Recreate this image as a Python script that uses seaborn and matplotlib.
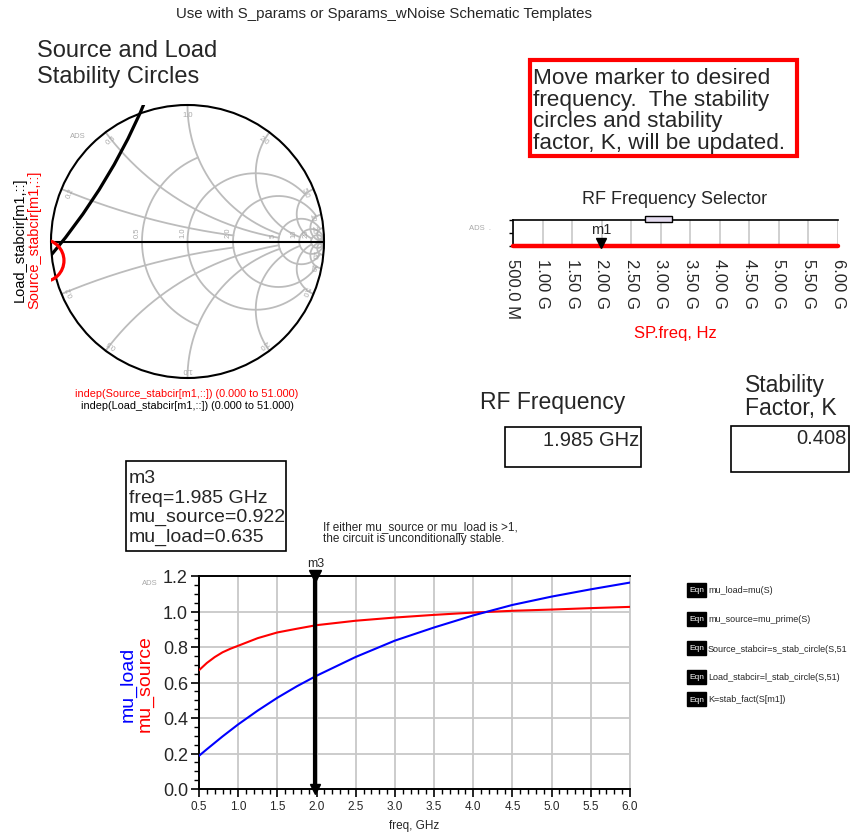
import numpy as np
import pandas as pd
import matplotlib
matplotlib.use("Agg")
import matplotlib.pyplot as plt
from matplotlib.patches import Circle, Rectangle
import seaborn as sns

sns.set_theme(style="white")
plt.rcParams["font.family"] = ["Liberation Sans", "DejaVu Sans"]

# ---------------------------------------------------------------- data
freq_ghz = [0.5, 0.6, 0.7, 0.8, 0.9, 1.0, 1.25, 1.5, 1.75, 2.0,
            2.5, 3.0, 3.5, 4.0, 4.5, 5.0, 5.5, 6.0]
mu_source = [0.669, 0.710, 0.743, 0.770, 0.790, 0.807, 0.850, 0.882, 0.903, 0.923,
             0.948, 0.966, 0.981, 0.994, 1.004, 1.011, 1.019, 1.026]
mu_load = [0.187, 0.224, 0.260, 0.296, 0.330, 0.364, 0.442, 0.514, 0.579, 0.638,
           0.744, 0.836, 0.910, 0.978, 1.037, 1.084, 1.125, 1.163]

marker_freq_ghz = 1.985
marker_mu_source = 0.922
marker_mu_load = 0.635
stability_k = 0.408

# stability circles at the marker frequency (reflection-coefficient plane)
load_circle_center = (-4.35, 2.72)
load_circle_radius = 4.38
source_circle_center = (-1.06, -0.14)
source_circle_radius = 0.155

smith_r_values = [0.5, 1, 2, 5, 10, 20, 50]
smith_r_labels = ["0.5", "1.0", "2.0", "5", "10", "20", ""]
smith_x_values = [0.2, 0.5, 1, 2, 5, 10, 20, 50]
smith_x_labels = ["0.2", "0.5", "1.0", "2.0", "5.0", "10", "20", ""]

selector_ticks_ghz = [0.5, 1.0, 1.5, 2.0, 2.5, 3.0, 3.5, 4.0, 4.5, 5.0, 5.5, 6.0]
selector_tick_labels = ["500.0 M", "1.00 G", "1.50 G", "2.00 G", "2.50 G", "3.00 G",
                        "3.50 G", "4.00 G", "4.50 G", "5.00 G", "5.50 G", "6.00 G"]

mu_xticks = [0.5, 1.0, 1.5, 2.0, 2.5, 3.0, 3.5, 4.0, 4.5, 5.0, 5.5, 6.0]
mu_yticks = [0.0, 0.2, 0.4, 0.6, 0.8, 1.0, 1.2]

equations = ["mu_load=mu(S)", "mu_source=mu_prime(S)", "Source_stabcir=s_stab_circle(S,51",
             "Load_stabcir=l_stab_circle(S,51)", "K=stab_fact(S[m1])"]

# ---------------------------------------------------------------- figure
W, H = 851, 837
fig = plt.figure(figsize=(W / 100, H / 100), dpi=100)
fig.patch.set_facecolor("white")


def px_axes(l, t, r, b):
    return fig.add_axes([l / W, 1 - b / H, (r - l) / W, (b - t) / H])


def ftext(x, y, s, **kw):
    return fig.text(x / W, 1 - y / H, s, **kw)


def pbox(l, t, r, b, ec="black", lw=1.0):
    fig.add_artist(Rectangle((l / W, 1 - b / H), (r - l) / W, (b - t) / H,
                             transform=fig.transFigure, fill=False, ec=ec, lw=lw))


GRAY = "#bcbcbc"
LBL = "#a8a8a8"

ftext(384, 14, "Use with S_params or Sparams_wNoise Schematic Templates",
      ha="center", va="center", fontsize=10.8)
ftext(37, 64, "Source and Load\nStability Circles", ha="left", va="center",
      fontsize=17, linespacing=1.2)

# ---------------------------------------------------------------- Smith chart
ax_s = px_axes(51, 106, 324, 379)
ax_s.set_xlim(-1, 1)
ax_s.set_ylim(-1, 1)
ax_s.set_aspect("equal")
ax_s.axis("off")


def gamma(z):
    return (z - 1) / (z + 1)


r_xlimit = {0.5: 1, 1: 5, 2: 10, 5: 20, 10: 50, 20: 1e4, 50: 1e4}
x_rlimit = {0.2: 2, 0.5: 5, 1: 5, 2: 10, 5: 20, 10: 50, 20: 1e4, 50: 1e4}

for r in smith_r_values:
    xl = r_xlimit[r]
    xs = np.sinh(np.linspace(-np.arcsinh(xl), np.arcsinh(xl), 500))
    g = gamma(r + 1j * xs)
    ax_s.plot(g.real, g.imag, color=GRAY, lw=1.3, zorder=1)
for x in smith_x_values:
    rl = x_rlimit[x]
    rs = np.sinh(np.linspace(0, np.arcsinh(rl), 500))
    for sgn in (1, -1):
        g = gamma(rs + 1j * sgn * x)
        ax_s.plot(g.real, g.imag, color=GRAY, lw=1.3, zorder=1)

for r, lab in zip(smith_r_values, smith_r_labels):
    if lab:
        g0 = (r - 1) / (r + 1)
        ax_s.text(g0 - 0.035, 0.03, lab, rotation=90, ha="center", va="bottom",
                  fontsize=5.5, color=LBL)
for x, lab in zip(smith_x_values, smith_x_labels):
    if not lab:
        continue
    for sgn in (1, -1):
        g = gamma(1j * sgn * x)
        ang = np.angle(g)
        p = 0.93 * g
        ax_s.text(p.real, p.imag, lab, rotation=np.degrees(ang) - 90,
                  ha="center", va="center", fontsize=5.5, color=LBL,
                  rotation_mode="anchor")

ax_s.plot([-1, 1], [0, 0], color="black", lw=1.5, zorder=3, clip_on=False)
ax_s.add_patch(Circle((0, 0), 1, fill=False, ec="black", lw=1.5, zorder=4, clip_on=False))
ax_s.add_patch(Circle(load_circle_center, load_circle_radius, fill=False,
                      ec="black", lw=2.3, zorder=5))
ax_s.add_patch(Circle(source_circle_center, source_circle_radius, fill=False,
                      ec="red", lw=2.3, zorder=6))
ftext(78, 137, "ADS", fontsize=5.5, color=LBL, ha="center", va="center")

ftext(20, 240, "Load_stabcir[m1,::]", rotation=90, ha="center", va="center",
      fontsize=10.5, color="black")
ftext(34, 240, "Source_stabcir[m1,::]", rotation=90, ha="center", va="center",
      fontsize=10.5, color="red")
ftext(187, 394, "indep(Source_stabcir[m1,::]) (0.000 to 51.000)", ha="center",
      va="center", fontsize=7.8, color="red")
ftext(187, 406, "indep(Load_stabcir[m1,::]) (0.000 to 51.000)", ha="center",
      va="center", fontsize=7.8, color="black")

# ---------------------------------------------------------------- note box
pbox(530, 61, 797, 157, ec="red", lw=3)
ftext(533, 111, "Move marker to desired\nfrequency.  The stability\ncircles and stability\n"
      "factor, K, will be updated.", ha="left", va="center", fontsize=16.2,
      linespacing=1.04)

# ---------------------------------------------------------------- frequency selector
ftext(675, 200, "RF Frequency Selector", ha="center", va="center", fontsize=13)
ax_f = px_axes(513, 221, 838, 247)
sel = pd.DataFrame({"freq": [selector_ticks_ghz[0], selector_ticks_ghz[-1]],
                    "level": [0.0, 0.0]})
sns.lineplot(data=sel, x="freq", y="level", ax=ax_f, color="red", lw=3.2,
             clip_on=False, zorder=5)
ax_f.set_xlim(0.5, 6.0)
ax_f.set_ylim(0, 1)
ax_f.set_xticks(selector_ticks_ghz)
ax_f.set_xticklabels(selector_tick_labels, rotation=-90, fontsize=12)
ax_f.set_yticks([0, 0.5, 1])
ax_f.set_yticklabels([])
ax_f.tick_params(axis="x", length=0, pad=9)
ax_f.tick_params(axis="y", length=3, width=1, color="black", direction="out", left=True)
ax_f.set_xlabel("")
ax_f.set_ylabel("")
for t in selector_ticks_ghz:
    ax_f.axvline(t, color="#c8c8c8", lw=1.2, zorder=1)
for side in ("right", "bottom"):
    ax_f.spines[side].set_visible(False)
for side in ("left", "top"):
    ax_f.spines[side].set_color("black")
    ax_f.spines[side].set_linewidth(1.2)
ax_f.plot([marker_freq_ghz], [0.12], marker="v", color="black", ms=7, zorder=6,
          clip_on=False)
ax_f.text(marker_freq_ghz, 0.38, "m1", ha="center", va="bottom", fontsize=10.5)
ax_f.add_patch(Rectangle((2.74, 0.92), 0.45, 0.23, transform=ax_f.transData,
                         fc="#e4dcef", ec="black", lw=1, clip_on=False, zorder=7))
ftext(480, 228, "ADS  .", fontsize=5.5, color=LBL, ha="center", va="center")
ftext(675, 334, "SP.freq, Hz", ha="center", va="center", fontsize=12, color="red")

# ---------------------------------------------------------------- readouts
ftext(553, 403, "RF Frequency", ha="center", va="center", fontsize=16.5)
pbox(505, 428, 641, 468, lw=1.2)
ftext(639, 440, f"{marker_freq_ghz:.3f} GHz", ha="right", va="center", fontsize=14.5)

ftext(745, 397, "Stability\nFactor, K", ha="left", va="center", fontsize=16.5,
      linespacing=0.98)
pbox(731, 427, 849, 473, lw=1.2)
ftext(847, 438, f"{stability_k:.3f}", ha="right", va="center", fontsize=14.5)

# ---------------------------------------------------------------- marker readout
pbox(126, 462, 286, 552, lw=1.2)
ftext(129, 508, f"m3\nfreq={marker_freq_ghz:.3f} GHz\nmu_source={marker_mu_source:.3f}\n"
      f"mu_load={marker_mu_load:.3f}", ha="left", va="center", fontsize=14,
      linespacing=1.17)
ftext(323, 533, "If either mu_source or mu_load is >1,\nthe circuit is unconditionally stable.",
      ha="left", va="center", fontsize=8.5, linespacing=1.0)

# ---------------------------------------------------------------- mu plot
ax = px_axes(199, 577, 630, 790)
mu_df = pd.DataFrame({
    "freq": freq_ghz * 2,
    "mu": mu_source + mu_load,
    "series": ["mu_source"] * len(freq_ghz) + ["mu_load"] * len(freq_ghz),
})
sns.lineplot(data=mu_df, x="freq", y="mu", hue="series",
             palette={"mu_source": "red", "mu_load": "blue"}, lw=1.5,
             legend=False, ax=ax, zorder=3)
ax.set_xlim(0.5, 6.0)
ax.set_ylim(0, 1.2)
ax.set_xticks(mu_xticks)
ax.set_xticklabels([f"{v:.1f}" for v in mu_xticks], fontsize=8.5)
ax.set_yticks(mu_yticks)
ax.set_yticklabels([f"{v:.1f}" for v in mu_yticks], fontsize=13)
ax.set_xticks(np.arange(0.5, 6.001, 0.1), minor=True)
ax.set_yticks(np.arange(0, 1.2001, 0.05), minor=True)
ax.tick_params(which="major", direction="out", length=6, width=1.2, color="black",
               bottom=True, left=True, pad=2)
ax.tick_params(which="minor", direction="out", length=3.5, width=1, color="black",
               bottom=True, left=True)
ax.grid(True, which="major", color="#c8c8c8", lw=1.3)
ax.set_axisbelow(True)
for side in ("left", "bottom", "top"):
    ax.spines[side].set_color("black")
    ax.spines[side].set_linewidth(1.4)
ax.spines["right"].set_color("#c8c8c8")
ax.spines["right"].set_linewidth(1.3)
ax.set_xlabel("freq, GHz", fontsize=8.5, labelpad=5)
ax.set_ylabel("")
ax.axvline(marker_freq_ghz, color="black", lw=3, zorder=5)
ax.plot([marker_freq_ghz], [1.2], marker="v", color="black", ms=8, zorder=6, clip_on=False)
ax.plot([marker_freq_ghz], [0.0], marker="v", color="black", ms=7, zorder=6, clip_on=False)
ax.text(marker_freq_ghz, 1.24, "m3", ha="center", va="bottom", fontsize=9)

ftext(150, 584, "ADS", fontsize=5.5, color=LBL, ha="center", va="center")
ftext(128, 684, "mu_load", rotation=90, ha="center", va="center", fontsize=14,
      color="blue")
ftext(145, 684, "mu_source", rotation=90, ha="center", va="center", fontsize=14,
      color="red")

# ---------------------------------------------------------------- equation blocks
for y, eq in zip([591, 620, 649, 678, 700], equations):
    fig.add_artist(Rectangle((687 / W, 1 - (y + 7) / H), 19 / W, 14 / H,
                             transform=fig.transFigure, fc="black", ec="black"))
    ftext(696.5, y, "Eqn", ha="center", va="center", fontsize=6, color="white")
    ftext(708, y, eq, ha="left", va="center", fontsize=6.5)

fig.savefig("out.png", dpi=100, facecolor="white")
